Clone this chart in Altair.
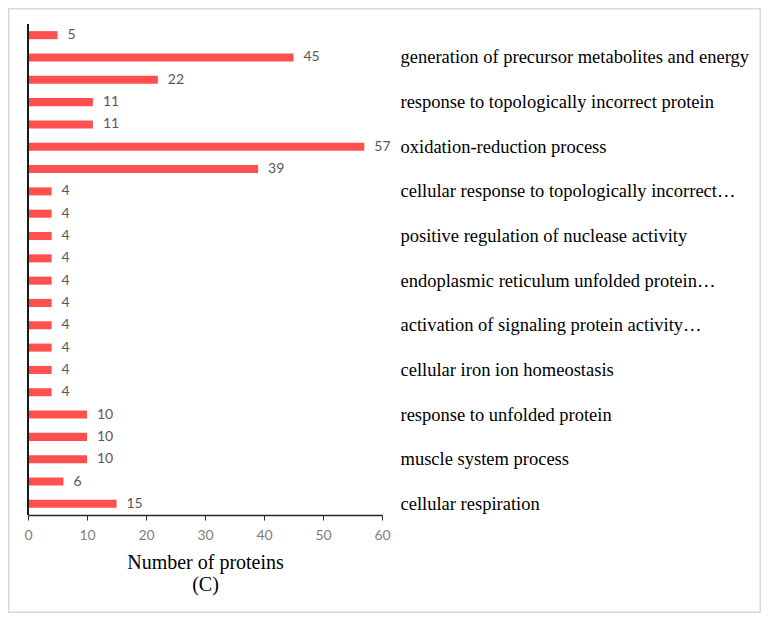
import altair as alt
import pandas as pd

# rows listed top to bottom; only every other category name is shown in the figure
labels = [
    "", "generation of precursor metabolites and energy", "",
    "response to topologically incorrect protein", "",
    "oxidation-reduction process", "",
    "cellular response to topologically incorrect…", "",
    "positive regulation of nuclease activity", "",
    "endoplasmic reticulum unfolded protein…", "",
    "activation of signaling protein activity…", "",
    "cellular iron ion homeostasis", "",
    "response to unfolded protein", "",
    "muscle system process", "",
    "cellular respiration",
]
values = [5, 45, 22, 11, 11, 57, 39, 4, 4, 4, 4, 4, 4, 4, 4, 4, 4, 10, 10, 10, 6, 15]
x_ticks = [0, 10, 20, 30, 40, 50, 60]

df = pd.DataFrame({"row": list(range(len(values))), "value": values})
label_js = "[" + ",".join('"' + l + '"' for l in labels) + "]"

W, H = 354, 491

y_enc = alt.Y(
    "row:O",
    scale=alt.Scale(paddingInner=0.64, paddingOuter=0.32),
    axis=alt.Axis(
        orient="right", domain=False, ticks=False, labelPadding=18,
        labelExpr=label_js + "[datum.value]",
        labelFont="Liberation Serif", labelFontSize=18.5, labelColor="black",
        title=None, labelLimit=400,
    ),
)
x_enc = alt.X(
    "value:Q",
    scale=alt.Scale(domain=[0, 60]),
    axis=alt.Axis(
        values=x_ticks, grid=False, domainColor="#262626", domainWidth=1.5,
        tickColor="#262626", tickSize=5, labelColor="#808080", labelFont="Lato",
        labelFontSize=14, labelPadding=8, labelFlush=False,
        title=["Number of proteins", "(C)"], titleFont="Liberation Serif",
        titleFontSize=20, titleFontWeight="normal", titleColor="black",
        titlePadding=10, titleLineHeight=22,
    ),
)

base = alt.Chart(df)
bars = base.mark_bar(color="#ff4f4f").encode(x=x_enc, y=y_enc)
text = base.mark_text(align="left", dx=10, font="Lato", fontSize=14, color="#595959").encode(
    x="value:Q", y="row:O", text="value:Q"
)

one = alt.Chart(pd.DataFrame({"a": [0]}))
yline = one.mark_rule(color="#1a1a1a", strokeWidth=2).encode(
    x=alt.value(0), y=alt.value(0), y2=alt.value(H)
)
border = one.mark_rect(fillOpacity=0, stroke="#d9d9d9", strokeWidth=2).encode(
    x=alt.value(-19.5), x2=alt.value(732.5), y=alt.value(-15.5), y2=alt.value(588.5)
)

chart = alt.layer(border, bars, text, yline).properties(
    width=W, height=H,
    autosize=alt.AutoSizeParams(type="none"),
    padding={"left": 20, "top": 16, "right": 379, "bottom": 98},
).configure_view(stroke=None)

chart.save("out.html", embed_options={"renderer": "svg", "actions": False})
